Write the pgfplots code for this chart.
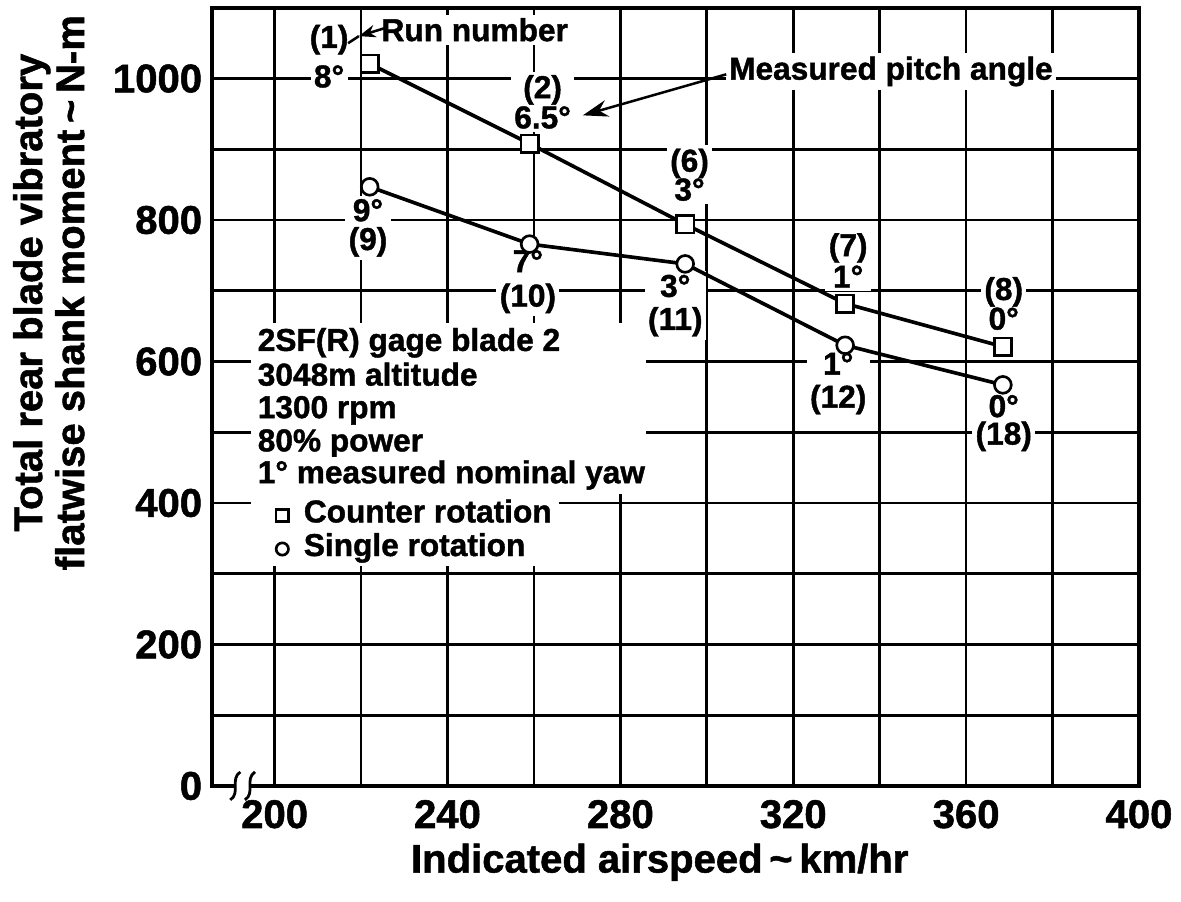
\documentclass[border=0pt]{standalone}
\usepackage{fontspec}
\setmainfont{Liberation Sans}[BoldFeatures={FakeBold=1.3}]
\usepackage{pgfplots}
\pgfplotsset{compat=1.18}
\usetikzlibrary{arrows.meta}

\newcommand\bigf{\fontsize{14.3}{15}\selectfont\bfseries}
\newcommand\smf{\fontsize{11.3}{12}\selectfont\bfseries}
\tikzset{
  lbl/.style={fill=white, inner sep=1.2pt, font=\smf},
  pair/.style={fill=white, inner sep=1.2pt, align=center,
    font=\fontsize{11.3}{#1}\selectfont\bfseries},
}

\begin{document}
\begin{tikzpicture}
\begin{axis}[
  name=ax,
  scale only axis,
  width=331.1pt, height=277.9pt,
  xmin=185.5, xmax=400, ymin=0, ymax=1100,
  xtick={200,240,...,400}, minor xtick={220,260,...,380},
  ytick={0,200,...,1000}, minor ytick={100,300,...,900},
  grid=both,
  major grid style={line width=0.95pt, black},
  minor grid style={line width=0.95pt, black},
  major tick length=0pt, minor tick length=0pt,
  axis line style={line width=1.6pt},
  tick label style={font=\bigf},
  /pgf/number format/assume math mode=true,
  /pgf/number format/1000 sep={},
  xticklabel style={yshift=-1.5pt},
  xlabel={Indicated airspeed\,\textasciitilde\,km/hr},
  xlabel style={at={(axis description cs:0.483,-0.098)}, anchor=center, font=\bigf},
  ylabel={Total rear blade vibratory\\flatwise shank moment\,\textasciitilde\,N-m},
  ylabel style={at={(axis description cs:-0.176,0.634)}, anchor=center, align=center, font=\bigf},
  clip=false,
  legend style={at={(axis description cs:0.0626,0.370)}, anchor=north west,
    draw=none, fill=white, font=\smf, inner xsep=2pt, inner ysep=1pt,
    row sep=2pt, nodes={inner sep=0.5pt, text height=0.7em, text depth=0.2em},
    /tikz/every odd column/.append style={column sep=5pt}},
  legend cell align=left,
  legend image code/.code={\draw[#1, mark size=2.2pt] plot coordinates {(0pt,0pt)};},
]
% white area behind the notes block
\fill[white] (axis cs:194.5,655) rectangle (axis cs:286,413);
\fill[white] (axis cs:194.5,413) rectangle (axis cs:265,314);

% run numbers and pitch angles
\node[lbl] at (axis cs:212.6,1055) {(1)};
\node[lbl] at (axis cs:212.6,1003) {8°};
\node[pair=10.8pt] at (axis cs:262,967) {(2)\\6.5°};
\node[pair=10.3pt] at (axis cs:296,864) {(6)\\3°};
\node[pair=9.6pt] at (axis cs:332.7,743) {(7)\\1°};
\node[pair=10.6pt] at (axis cs:368.7,682) {(8)\\0°};
\node[pair=10.3pt] at (axis cs:221.6,789) {9°\\(9)};
\node[pair=12.3pt] at (axis cs:258.6,713) {7°\\(10)};
\node[pair=11.8pt] at (axis cs:292.7,679) {3°\\(11)};
\node[pair=11.8pt] at (axis cs:330.4,569) {1°\\(12)};
\node[pair=9.8pt] at (axis cs:368.7,513) {0°\\(18)};

% callouts
\node[lbl] at (axis cs:246.3,1069) {Run number};
\draw[line width=0.9pt, -{Stealth[length=6pt,width=4.5pt]}] (axis cs:225.3,1071) -- (axis cs:219.5,1060);
\draw[line width=0.9pt] (axis cs:219.5,1060) -- (axis cs:217,1050);
\node[lbl] at (axis cs:342.6,1010) {Measured pitch angle};
\draw[line width=0.9pt, -{Stealth[length=9pt,width=6pt]}] (axis cs:304.5,1006) -- (axis cs:271.3,948);

% notes block
\node[lbl, anchor=base west] at (axis cs:195.2,615) {2SF(R) gage blade 2};
\node[lbl, anchor=base west] at (axis cs:195.2,566) {3048m altitude};
\node[lbl, anchor=base west] at (axis cs:195.2,520) {1300 rpm};
\node[lbl, anchor=base west] at (axis cs:195.2,473) {80\% power};
\node[lbl, anchor=base west] at (axis cs:195.2,428) {1° measured nominal yaw};

% data
\addplot[black, line width=1.3pt, mark=square*, mark size=3.1pt,
  mark options={fill=white, line width=0.95pt}]
  coordinates {(222,1021) (259,908) (295,794) (332,682) (368.5,621)};
\addplot[black, line width=1.3pt, mark=*, mark size=3.0pt,
  mark options={fill=white, line width=0.95pt}]
  coordinates {(222,847) (259,766) (295,738) (332,623) (368.5,567)};
\legend{Counter rotation, Single rotation}

\coordinate (g1) at (axis cs:190.9,0);
\coordinate (g2) at (axis cs:194.3,0);
\end{axis}
% axis break
\fill[white] ([yshift=-1.5pt]g1) rectangle ([yshift=1.5pt]g2);
\foreach \g in {g1,g2}{
  \draw[line width=1pt] ([xshift=1.8pt,yshift=5pt]\g) .. controls ([xshift=-2pt,yshift=2.5pt]\g) and ([xshift=2pt,yshift=-2.5pt]\g) .. ([xshift=-1.8pt,yshift=-5pt]\g);
}
\pgfresetboundingbox
\path[use as bounding box] ([xshift=-75.7pt,yshift=-41.1pt]ax.south west) rectangle ([xshift=346.1pt,yshift=280.7pt]ax.south west);
\end{tikzpicture}
\end{document}
